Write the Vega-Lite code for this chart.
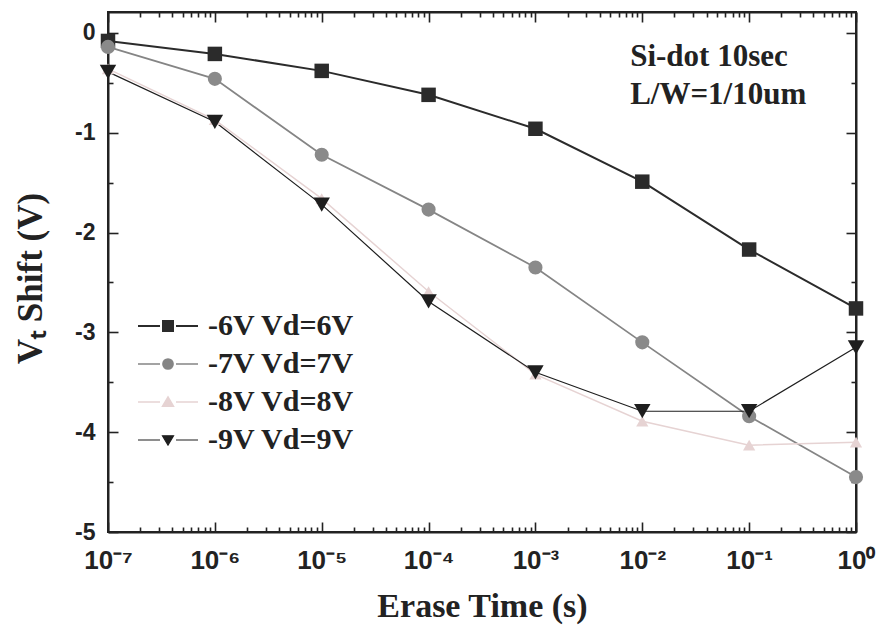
{
  "$schema": "https://vega.github.io/schema/vega-lite/v6.json",
  "width": 748,
  "height": 520,
  "autosize": {"type": "none"},
  "padding": {"left": 108, "top": 12, "right": 25, "bottom": 97},
  "background": "white",
  "config": {
    "view": {"stroke": "#222", "strokeWidth": 2},
    "axis": {
      "domainColor": "#222", "domainWidth": 2, "tickColor": "#222", "tickWidth": 1.6,
      "grid": false, "labelColor": "#222", "titleColor": "#222"
    }
  },
  "datasets": {
    "d": [
      {"s": "-6V Vd=6V", "t": 1e-7, "v": -0.08},
      {"s": "-6V Vd=6V", "t": 1e-6, "v": -0.21},
      {"s": "-6V Vd=6V", "t": 1e-5, "v": -0.38},
      {"s": "-6V Vd=6V", "t": 1e-4, "v": -0.62},
      {"s": "-6V Vd=6V", "t": 1e-3, "v": -0.96},
      {"s": "-6V Vd=6V", "t": 1e-2, "v": -1.49},
      {"s": "-6V Vd=6V", "t": 1e-1, "v": -2.17},
      {"s": "-6V Vd=6V", "t": 1, "v": -2.76},
      {"s": "-7V Vd=7V", "t": 1e-7, "v": -0.14},
      {"s": "-7V Vd=7V", "t": 1e-6, "v": -0.46},
      {"s": "-7V Vd=7V", "t": 1e-5, "v": -1.22},
      {"s": "-7V Vd=7V", "t": 1e-4, "v": -1.77},
      {"s": "-7V Vd=7V", "t": 1e-3, "v": -2.35},
      {"s": "-7V Vd=7V", "t": 1e-2, "v": -3.10},
      {"s": "-7V Vd=7V", "t": 1e-1, "v": -3.84},
      {"s": "-7V Vd=7V", "t": 1, "v": -4.45},
      {"s": "-8V Vd=8V", "t": 1e-7, "v": -0.36},
      {"s": "-8V Vd=8V", "t": 1e-6, "v": -0.87},
      {"s": "-8V Vd=8V", "t": 1e-5, "v": -1.66},
      {"s": "-8V Vd=8V", "t": 1e-4, "v": -2.59},
      {"s": "-8V Vd=8V", "t": 1e-3, "v": -3.42},
      {"s": "-8V Vd=8V", "t": 1e-2, "v": -3.89},
      {"s": "-8V Vd=8V", "t": 1e-1, "v": -4.13},
      {"s": "-8V Vd=8V", "t": 1, "v": -4.10},
      {"s": "-9V Vd=9V", "t": 1e-7, "v": -0.39},
      {"s": "-9V Vd=9V", "t": 1e-6, "v": -0.89},
      {"s": "-9V Vd=9V", "t": 1e-5, "v": -1.72},
      {"s": "-9V Vd=9V", "t": 1e-4, "v": -2.69},
      {"s": "-9V Vd=9V", "t": 1e-3, "v": -3.40},
      {"s": "-9V Vd=9V", "t": 1e-2, "v": -3.79},
      {"s": "-9V Vd=9V", "t": 1e-1, "v": -3.79},
      {"s": "-9V Vd=9V", "t": 1, "v": -3.15}
    ],
    "notes": [
      {"t": 0.0077, "v": -0.24, "label": "Si-dot 10sec"},
      {"t": 0.0077, "v": -0.62, "label": "L/W=1/10um"}
    ]
  },
  "resolve": {"axis": {"x": "independent", "y": "independent"}},
  "layer": [
    {
      "data": {"name": "d"},
      "mark": {"type": "line"},
      "encoding": {
        "x": {
          "field": "t", "type": "quantitative",
          "scale": {"type": "log", "domain": [1e-7, 1], "nice": false},
          "axis": {
            "orient": "bottom",
            "values": [1e-7,2e-7,3e-7,4e-7,5e-7,6e-7,7e-7,8e-7,9e-7,1e-6,2e-6,3e-6,4e-6,5e-6,6e-6,7e-6,8e-6,9e-6,1e-5,2e-5,3e-5,4e-5,5e-5,6e-5,7e-5,8e-5,9e-5,1e-4,2e-4,3e-4,4e-4,5e-4,6e-4,7e-4,8e-4,9e-4,1e-3,2e-3,3e-3,4e-3,5e-3,6e-3,7e-3,8e-3,9e-3,1e-2,2e-2,3e-2,4e-2,5e-2,6e-2,7e-2,8e-2,9e-2,0.1,0.2,0.3,0.4,0.5,0.6,0.7,0.8,0.9,1],
            "labelExpr": "abs(log(datum.value)/LN10 - round(log(datum.value)/LN10)) < 1e-6 ? ['10⁻⁷','10⁻⁶','10⁻⁵','10⁻⁴','10⁻³','10⁻²','10⁻¹','10⁰'][round(log(datum.value)/LN10)+7] : ''",
            "tickSize": {"condition": {"test": "abs(log(datum.value)/LN10 - round(log(datum.value)/LN10)) < 1e-6", "value": -10}, "value": -5},
            "labelFont": "Liberation Sans", "labelFontWeight": "bold", "labelFontSize": 26,
            "labelPadding": 25, "labelFlush": false, "labelOverlap": false,
            "title": "Erase Time (s)", "titleFont": "Liberation Serif", "titleFontWeight": "bold",
            "titleFontSize": 34, "titleY": 74, "titleBaseline": "middle"
          }
        },
        "y": {
          "field": "v", "type": "quantitative",
          "scale": {"domain": [-5, 0.21], "nice": false, "zero": false},
          "axis": {
            "orient": "left",
            "values": [-5,-4.5,-4,-3.5,-3,-2.5,-2,-1.5,-1,-0.5,0],
            "labelExpr": "datum.value % 1 === 0 ? '' + datum.value : ''",
            "tickSize": {"condition": {"test": "datum.value % 1 === 0", "value": -10}, "value": -5},
            "labelFont": "Liberation Sans", "labelFontWeight": "bold", "labelFontSize": 23,
            "labelPadding": 23, "labelFlush": false, "labelOverlap": false,
            "title": "Vₜ Shift (V)", "titleFont": "Liberation Serif", "titleFontWeight": "bold",
            "titleFontSize": 35, "titleX": -78, "titleY": 266, "titleBaseline": "middle", "titleAlign": "center"
          }
        },
        "color": {
          "field": "s", "type": "nominal",
          "scale": {"domain": ["-6V Vd=6V","-7V Vd=7V","-8V Vd=8V","-9V Vd=9V"], "range": ["#2b2b2b","#858585","#e6d3d3","#1e1e1e"]},
          "legend": {
            "orient": "none", "legendX": 45, "legendY": 299, "title": null, "padding": 0,
            "symbolSize": 400, "labelFont": "Liberation Serif", "labelFontWeight": "bold",
            "labelFontSize": 30, "labelColor": "#222", "labelOffset": 25, "rowPadding": 8,
            "encode": {
              "symbols": {
                "update": {
                  "shape": {"signal": "datum.value === '-6V Vd=6V' ? 'M-3,0H-0.8M0.8,0H3M-0.5,-0.5H0.5V0.5H-0.5Z' : datum.value === '-7V Vd=7V' ? 'M-3,0H-0.8M0.8,0H3M0.5,0A0.5,0.5 0 1,1 -0.5,0A0.5,0.5 0 1,1 0.5,0Z' : datum.value === '-8V Vd=8V' ? 'M-3,0H-0.8M0.8,0H3M0,-0.5L0.55,0.42H-0.55Z' : 'M-3,0H-0.8M0.8,0H3M-0.55,-0.42H0.55L0,0.5Z'"},
                  "fill": {"scale": "color", "field": "value"},
                  "stroke": {"scale": "color", "field": "value"},
                  "strokeWidth": {"value": 2},
                  "opacity": {"value": 1}
                }
              }
            }
          }
        },
        "strokeWidth": {
          "field": "s", "type": "nominal",
          "scale": {"domain": ["-6V Vd=6V","-7V Vd=7V","-8V Vd=8V","-9V Vd=9V"], "range": [2, 1.2, 1, 2.3]},
          "legend": null
        }
      }
    },
    {
      "data": {"name": "d"},
      "transform": [{"filter": "datum.s === '-6V Vd=6V'"}],
      "mark": {"type": "point", "filled": true, "opacity": 1, "shape": "square", "size": 210, "color": "#2b2b2b"},
      "encoding": {
        "x": {
          "field": "t", "type": "quantitative",
          "scale": {"type": "log", "domain": [1e-7, 1], "nice": false},
          "axis": {
            "orient": "top",
            "values": [1e-7,2e-7,3e-7,4e-7,5e-7,6e-7,7e-7,8e-7,9e-7,1e-6,2e-6,3e-6,4e-6,5e-6,6e-6,7e-6,8e-6,9e-6,1e-5,2e-5,3e-5,4e-5,5e-5,6e-5,7e-5,8e-5,9e-5,1e-4,2e-4,3e-4,4e-4,5e-4,6e-4,7e-4,8e-4,9e-4,1e-3,2e-3,3e-3,4e-3,5e-3,6e-3,7e-3,8e-3,9e-3,1e-2,2e-2,3e-2,4e-2,5e-2,6e-2,7e-2,8e-2,9e-2,0.1,0.2,0.3,0.4,0.5,0.6,0.7,0.8,0.9,1],
            "labels": false, "title": null,
            "tickSize": {"condition": {"test": "abs(log(datum.value)/LN10 - round(log(datum.value)/LN10)) < 1e-6", "value": -10}, "value": -5}
          }
        },
        "y": {
          "field": "v", "type": "quantitative",
          "scale": {"domain": [-5, 0.21], "nice": false, "zero": false},
          "axis": {
            "orient": "right",
            "values": [-5,-4.5,-4,-3.5,-3,-2.5,-2,-1.5,-1,-0.5,0],
            "labels": false, "title": null,
            "tickSize": {"condition": {"test": "datum.value % 1 === 0", "value": -10}, "value": -5}
          }
        }
      }
    },
    {
      "data": {"name": "d"},
      "transform": [{"filter": "datum.s === '-7V Vd=7V'"}],
      "mark": {"type": "point", "filled": true, "opacity": 1, "shape": "circle", "size": 200, "color": "#8a8a8a"},
      "encoding": {
        "x": {"field": "t", "type": "quantitative", "scale": {"type": "log", "domain": [1e-7, 1], "nice": false}, "axis": null},
        "y": {"field": "v", "type": "quantitative", "scale": {"domain": [-5, 0.21], "nice": false, "zero": false}, "axis": null}
      }
    },
    {
      "data": {"name": "d"},
      "transform": [{"filter": "datum.s === '-8V Vd=8V'"}],
      "mark": {"type": "point", "filled": true, "opacity": 1, "shape": "triangle-up", "size": 150, "color": "#e6d3d3"},
      "encoding": {
        "x": {"field": "t", "type": "quantitative", "scale": {"type": "log", "domain": [1e-7, 1], "nice": false}, "axis": null},
        "y": {"field": "v", "type": "quantitative", "scale": {"domain": [-5, 0.21], "nice": false, "zero": false}, "axis": null}
      }
    },
    {
      "data": {"name": "d"},
      "transform": [{"filter": "datum.s === '-9V Vd=9V'"}],
      "mark": {"type": "point", "filled": true, "opacity": 1, "shape": "triangle-down", "size": 270, "color": "#1e1e1e"},
      "encoding": {
        "x": {"field": "t", "type": "quantitative", "scale": {"type": "log", "domain": [1e-7, 1], "nice": false}, "axis": null},
        "y": {"field": "v", "type": "quantitative", "scale": {"domain": [-5, 0.21], "nice": false, "zero": false}, "axis": null}
      }
    },
    {
      "data": {"name": "notes"},
      "mark": {"type": "text", "align": "left", "baseline": "middle", "font": "Liberation Serif", "fontWeight": "bold", "fontSize": 31, "color": "#222"},
      "encoding": {
        "x": {"field": "t", "type": "quantitative", "scale": {"type": "log", "domain": [1e-7, 1], "nice": false}, "axis": null},
        "y": {"field": "v", "type": "quantitative", "scale": {"domain": [-5, 0.21], "nice": false, "zero": false}, "axis": null},
        "text": {"field": "label"}
      }
    }
  ]
}
